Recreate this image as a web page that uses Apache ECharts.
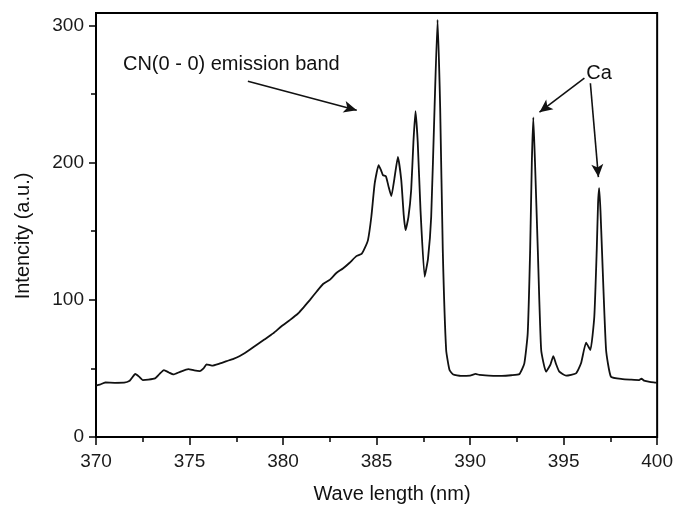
<!DOCTYPE html>
<html>
<head>
<meta charset="utf-8">
<script src="https://cdn.jsdelivr.net/npm/echarts@6/dist/echarts.min.js"></script>
<style>html,body{margin:0;padding:0;background:#fff}#c{width:676px;height:505px}</style>
</head>
<body>
<div id="c"></div>
<script>
// Data
const wavelength = [370.0,370.2,370.5,371.0,371.5,371.8,372.1,372.3,372.5,372.8,373.15,373.4,373.63,373.9,374.13,374.5,374.93,375.25,375.55,375.75,375.91,376.2,376.6,376.98,377.35,377.69,378.1,378.58,379.0,379.47,379.9,380.36,380.8,381.1,381.43,381.8,382.14,382.49,382.85,383.2,383.56,383.92,384.2,384.36,384.54,384.72,384.9,385.11,385.25,385.34,385.5,385.65,385.79,385.95,386.14,386.32,386.45,386.55,386.7,386.85,386.97,387.08,387.2,387.35,387.57,387.75,387.92,388.1,388.26,388.4,388.54,388.72,388.9,389.1,389.5,390.0,390.3,390.5,391.0,391.7,392.2,392.64,392.9,393.08,393.21,393.3,393.38,393.47,393.62,393.8,394.06,394.3,394.45,394.6,394.77,395.13,395.66,395.93,396.2,396.43,396.64,396.77,396.84,396.9,396.97,397.05,397.27,397.53,398.15,398.6,399.04,399.16,399.3,399.6,400.0];
const intensity = [37.5,38.2,39.7,39.5,39.6,41,45.9,44,41.5,41.8,42.7,46,48.8,47,45.6,47.5,49.5,48.5,48,50,52.9,52,53.5,55.3,57,59,62.5,67,71,75.5,80.5,85.2,90,94.5,99.8,106,111.5,114.5,119.5,122.8,127,131.8,133.5,137.4,143.5,160.5,184.8,198.1,194,190.8,190,182,175.5,188,204.2,187.2,162,150.8,160,180,215,237.5,215,165,116.8,130,160.5,240,304,240,136,63.4,48.8,45.5,44.5,44.8,46,45.2,44.8,44.5,45,45.9,53.7,75.5,136.2,200,233,200,136.2,63.4,47.6,53,59,53,47.6,44.7,46.4,53.7,68.7,63.4,87.6,136.2,170,181.4,165,136.2,63.4,43.9,42.2,41.8,41.5,42.5,41.1,40.2,39.5];
const xTickLabels = [370,375,380,385,390,395,400];
const yTickLabels = [0,100,200,300];
const yMinorTicks = [50,150,250];

// Annotations (data coordinates)
const cnText = 'CN(0 - 0) emission band';
const cnTextPos = [371.44, 270.9];
const caText = 'Ca';
const caTextPos = [396.21, 264.4];
const arrows = [
  [[378.12, 259.3],[383.94, 238.2]],
  [[396.11, 261.5],[393.71, 236.7]],
  [[396.43, 257.8],[396.86, 189.4]]
];

const FONT = '"Liberation Sans", Arial, sans-serif';
const chart = echarts.init(document.getElementById('c'), null, {renderer:'canvas'});
const seriesData = wavelength.map((w,i)=>[w,intensity[i]]);

chart.setOption({
  animation:false,
  backgroundColor:'#fff',
  grid:{left:96,right:18,top:13,bottom:68,show:true,borderColor:'#000',borderWidth:2,backgroundColor:'transparent'},
  xAxis:{
    type:'value',min:370,max:400,interval:5,
    axisLine:{show:true,lineStyle:{color:'#000',width:2}},
    axisTick:{show:true,inside:false,length:8,lineStyle:{color:'#000',width:1.5}},
    minorTick:{show:true,splitNumber:2,length:5,lineStyle:{color:'#000',width:1.5}},
    splitLine:{show:false},
    axisLabel:{color:'#1a1a1a',fontSize:19,fontFamily:FONT,margin:15,
      customValues:xTickLabels}
  },
  yAxis:[{
    type:'value',min:0,max:309,interval:100,
    axisLine:{show:true,lineStyle:{color:'#000',width:2}},
    axisTick:{show:true,inside:false,length:7,lineStyle:{color:'#000',width:1.5},customValues:yTickLabels},
    splitLine:{show:false},
    axisLabel:{color:'#1a1a1a',fontSize:19,fontFamily:FONT,margin:12,customValues:yTickLabels}
  },{
    type:'value',min:0,max:309,position:'left',
    axisLine:{show:false},
    axisTick:{show:true,inside:false,length:5,lineStyle:{color:'#000',width:1.5},customValues:yMinorTicks},
    splitLine:{show:false},
    axisLabel:{show:false}
  }],
  series:[{
    type:'line',data:seriesData,showSymbol:false,smooth:0.15,clip:true,
    lineStyle:{color:'#111',width:1.8},
    markLine:{
      silent:true,symbol:['none','arrow'],symbolSize:[9,13],
      label:{show:false},
      lineStyle:{color:'#111',width:1.6,type:'solid'},
      data:arrows.map(a=>[{coord:a[0]},{coord:a[1]}])
    }
  }]
});

const p1 = chart.convertToPixel({gridIndex:0}, cnTextPos);
const p2 = chart.convertToPixel({gridIndex:0}, caTextPos);
chart.setOption({
  graphic:[
    {type:'text',left:p1[0],top:p1[1]-11,style:{text:cnText,fill:'#111',font:'20px '+FONT}},
    {type:'text',left:p2[0],top:p2[1]-11,style:{text:caText,fill:'#111',font:'20px '+FONT}},
    {type:'text',x:392,y:494,style:{text:'Wave length (nm)',fill:'#111',font:'20px '+FONT,align:'center',verticalAlign:'middle'}},
    {type:'text',x:23,y:236,rotation:Math.PI/2,style:{text:'Intencity (a.u.)',fill:'#111',font:'20px '+FONT,align:'center',verticalAlign:'middle'}}
  ]
});
</script>
</body>
</html>
